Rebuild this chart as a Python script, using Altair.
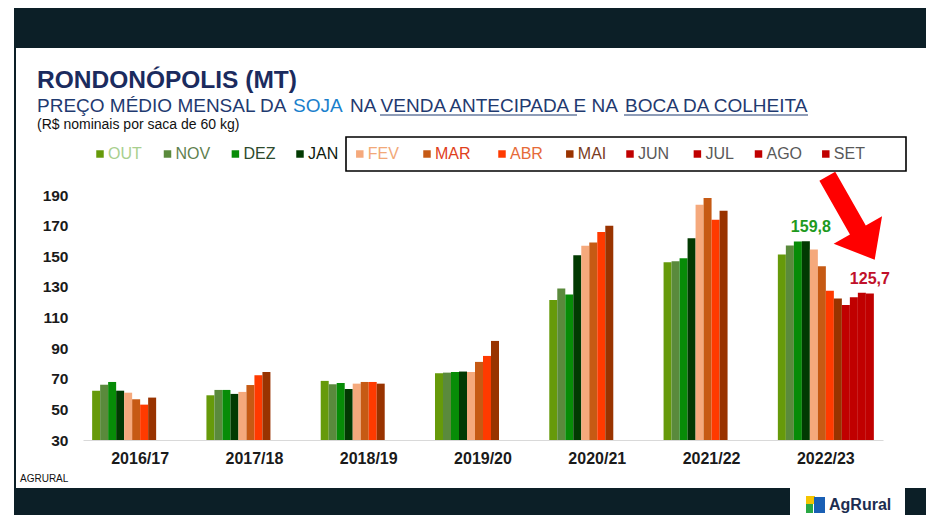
import altair as alt
import pandas as pd

# ---------------- data ----------------
seasons = ["2016/17", "2017/18", "2018/19", "2019/20", "2020/21", "2021/22", "2022/23"]
months = ["OUT", "NOV", "DEZ", "JAN", "FEV", "MAR", "ABR", "MAI", "JUN", "JUL", "AGO", "SET"]

p_2016_17 = [62.2, 66.1, 67.9, 62.2, 60.9, 56.6, 53.1, 57.7]
p_2017_18 = [59.2, 62.7, 62.7, 60.1, 61.4, 65.9, 72.3, 74.4]
p_2018_19 = [68.6, 66.4, 67.3, 63.3, 66.8, 67.9, 67.9, 66.8]
p_2019_20 = [73.6, 74.0, 74.4, 74.7, 74.4, 81.0, 84.9, 94.7]
p_2020_21 = [121.5, 128.9, 125.0, 150.7, 156.8, 159.0, 165.9, 169.9]
p_2021_22 = [146.1, 146.7, 148.7, 161.8, 183.6, 188.0, 173.8, 179.7]
p_2022_23 = [151.1, 157.0, 159.6, 159.8, 154.4, 143.5, 127.4, 122.4, 118.2, 123.3, 126.2, 125.7]
price_lists = [p_2016_17, p_2017_18, p_2018_19, p_2019_20, p_2020_21, p_2021_22, p_2022_23]

bar_colors = ["#669a0a", "#5a8a3c", "#078c07", "#023a02", "#f5a97c", "#c65a14",
              "#ff3a00", "#993300", "#c00000", "#c00000", "#c00000", "#c00000"]
legend_label_colors = ["#a9cf8e", "#5f7f4f", "#2d4a2d", "#0d1a0d", "#f2a878", "#e0401c",
                       "#e66a38", "#7a3b22", "#595959", "#595959", "#595959", "#595959"]
y_ticks = [30, 50, 70, 90, 110, 130, 150, 170, 190]

label_high = {"season": "2022/23", "month": "JAN", "value": 159.8, "text": "159,8"}
label_last = {"season": "2022/23", "month": "SET", "value": 125.7, "text": "125,7"}

rows = []
for s, vals in zip(seasons, price_lists):
    for m, v in zip(months, vals):
        rows.append({"season": s, "month": m, "value": v})
df = pd.DataFrame(rows)

legend_df = pd.DataFrame({"month": months, "idx": list(range(len(months))),
                          "tc": legend_label_colors})
one = pd.DataFrame({"k": [0]})

F = "Liberation Sans"
NAVY = "#1b2b5e"
SUBNAVY = "#1f3a70"

# ---------------- helpers ----------------
def box(x1, x2, y1, y2, color):
    return alt.Chart(one).mark_rect(color=color, opacity=1).encode(
        x=alt.value(x1), x2=alt.value(x2), y=alt.value(y1), y2=alt.value(y2))

def txt(s, x, y, size, color, weight="normal", align="left"):
    return alt.Chart(one).mark_text(
        text=s, align=align, baseline="alphabetic", font=F, fontSize=size,
        fontWeight=weight, color=color).encode(x=alt.value(x), y=alt.value(y))

def hline(x1, x2, y, color, w=1.2):
    return alt.Chart(one).mark_rule(color=color, strokeWidth=w).encode(
        x=alt.value(x1), x2=alt.value(x2), y=alt.value(y))

# ---------------- decoration ----------------
bg = box(-69, 843, -187, 320, "#0c1f27")
panel = box(-67, 843, -147, 293, "#ffffff")
logo_box = box(707, 822, 293, 320, "#ffffff")

title = txt("RONDONÓPOLIS (MT)", -46, -107, 24.5, NAVY, "bold")
sub1 = txt("PREÇO MÉDIO MENSAL DA", -46, -83, 19, SUBNAVY)
sub2 = txt("SOJA", 210, -83, 19, "#1a80cc")
sub3 = txt("NA VENDA ANTECIPADA E NA", 267, -83, 19, SUBNAVY)
sub3b = txt("BOCA DA COLHEITA", 542, -83, 19, SUBNAVY)
ul1 = hline(297, 494, -80, SUBNAVY)
ul2 = hline(541, 725, -80, SUBNAVY)
sub4 = txt("(R$ nominais por saca de 60 kg)", -46, -66, 14, "#111111")
src = txt("AGRURAL", -63, 287, 10, "#111111")

legend_frame = alt.Chart(one).mark_rect(filled=False, stroke="#000000", strokeWidth=1.6).encode(
    x=alt.value(263), x2=alt.value(823), y=alt.value(-58), y2=alt.value(-24))

legend_x_positions = [17, 84.5, 152.4, 217, 276.8, 344, 419, 486.8, 547, 614.4, 675.5, 742.8]
lx = alt.X("idx:Q", scale=alt.Scale(domain=list(range(12)), range=legend_x_positions), axis=None)
color_scale = alt.Scale(domain=months, range=bar_colors)

legend_sq = alt.Chart(legend_df).mark_square(size=56, opacity=1).encode(
    x=lx, y=alt.value(-41), color=alt.Color("month:N", scale=color_scale, legend=None))
legend_txt = alt.Chart(legend_df).mark_text(
    align="left", baseline="middle", dx=8, font=F, fontSize=16).encode(
    x=lx, y=alt.value(-41), text="month:N", fill=alt.Fill("tc:N", scale=None))

# ---------------- bars ----------------
x_enc = alt.X("season:N", sort=seasons,
              scale=alt.Scale(domain=seasons, paddingInner=0.16, paddingOuter=0.08),
              axis=alt.Axis(title=None, labelAngle=0, ticks=False, domainColor="#d9d9d9",
                            domainWidth=1, labelFont=F, labelFontSize=16, labelFontWeight="bold",
                            labelColor="#1a1a1a", labelPadding=10, zindex=1))
x_noaxis = alt.X("season:N", sort=seasons,
                 scale=alt.Scale(domain=seasons, paddingInner=0.16, paddingOuter=0.08), axis=None)
xo_enc = alt.XOffset("month:N", sort=months,
                     scale=alt.Scale(domain=months, paddingInner=0, paddingOuter=0))
y_scale = alt.Scale(domain=[30, 190], nice=False, zero=False)
y_axis = alt.Axis(title=None, values=y_ticks, ticks=False, domain=False, grid=False,
                  labelFont=F, labelFontSize=15.5, labelFontWeight="bold",
                  labelColor="#1a1a1a", labelPadding=15, labelOverlap=False,
                  labelFlush=False, zindex=1)
y_enc = alt.Y("value:Q", scale=y_scale, axis=y_axis)

bars = alt.Chart(df).mark_bar(opacity=1).encode(
    x=x_enc, xOffset=xo_enc, y=y_enc, y2=alt.datum(30),
    color=alt.Color("month:N", scale=color_scale, legend=None))

lab_hi = alt.Chart(pd.DataFrame([label_high])).mark_text(
    font=F, fontSize=16, fontWeight="bold", color="#1e9a1e", dy=-14, dx=5, baseline="middle").encode(
    x=x_noaxis, xOffset=xo_enc, y=y_enc, text="text:N")
lab_last = alt.Chart(pd.DataFrame([label_last])).mark_text(
    font=F, fontSize=16, fontWeight="bold", color="#c0102a", dy=-14, baseline="middle").encode(
    x=x_noaxis, xOffset=xo_enc, y=y_enc, text="text:N")

# ---------------- arrow & logo ----------------
arrow_path = "M -0.19 -1 L 0.19 -1 L 0.19 0.29 L 0.58 0.29 L 0 1 L -0.58 0.29 L -0.19 0.29 Z"
arrow = alt.Chart(one).mark_point(shape=arrow_path, filled=True, color="#ff0000", opacity=1,
                                  size=9200, angle=330.4, strokeWidth=0).encode(
    x=alt.value(768), y=alt.value(23))

icon_y = box(723, 732, 301, 309, "#f5c400")
icon_g = box(723, 730, 309, 318, "#2aa844")
icon_b = box(731, 742, 302, 318, "#1a5fb4")
logo_txt = txt("AgRural", 746, 315, 16, "#1d2d50", "bold")

chart = alt.layer(
    bg, panel, logo_box, title, sub1, sub2, sub3, sub3b, ul1, ul2, sub4, src,
    legend_frame, legend_sq, legend_txt, bars, lab_hi, lab_last, arrow,
    icon_y, icon_g, icon_b, logo_txt
).resolve_scale(x="independent").properties(
    width=800, height=245,
    autosize=alt.AutoSizeParams(type="none"),
    padding={"left": 75, "top": 187, "right": 43, "bottom": 75},
    background="white",
).configure_view(stroke=None).configure_axis(labelOverlap=False)

chart.save("out.html", embed_options={"renderer": "svg", "actions": False})
